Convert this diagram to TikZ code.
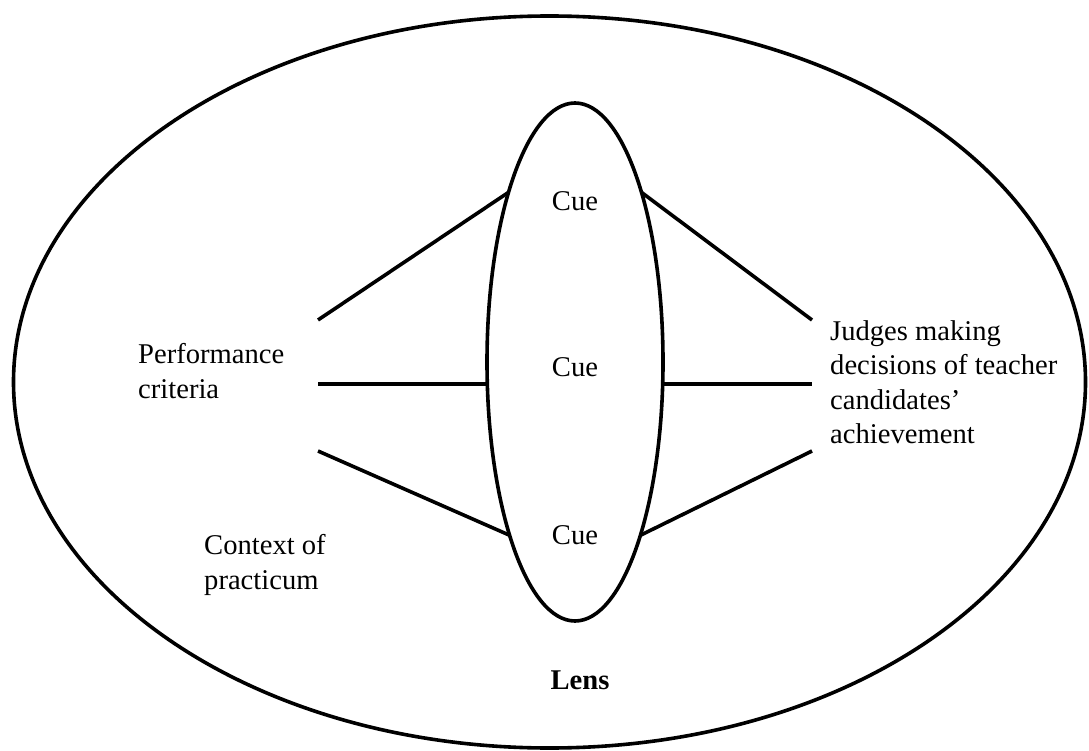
\documentclass[tikz,border=0pt]{standalone}
\usepackage{fontspec}
\setmainfont{Liberation Serif}
\begin{document}
\begin{tikzpicture}[x=1pt,y=-1pt,
  lbl/.style={inner sep=0pt,font=\fontsize{28.6}{34.5}\selectfont,align=left},
  link/.style={line width=3.6pt},
  shapeline/.style={line width=3.6pt}]
\useasboundingbox (0,0) rectangle (1089,751);
% outer ellipse
\draw[shapeline] (549.5,382) ellipse [x radius=536, y radius=366];
% lens
\draw[shapeline] (575,362) ellipse [x radius=88, y radius=259];
% coordinates
\coordinate (lu) at (318,320);
\coordinate (lm) at (318,384);
\coordinate (ll) at (318,451);
\coordinate (ru) at (812,320);
\coordinate (rm) at (812,384);
\coordinate (rl) at (812,451);
\coordinate (clu) at (509,192);
\coordinate (clm) at (487,384);
\coordinate (cll) at (509,535);
\coordinate (cru) at (641,192);
\coordinate (crm) at (663,384);
\coordinate (crl) at (641,535);
\draw[link] (lu) -- (clu);
\draw[link] (lm) -- (clm);
\draw[link] (ll) -- (cll);
\draw[link] (cru) -- (ru);
\draw[link] (crm) -- (rm);
\draw[link] (crl) -- (rl);
% texts
\node[lbl] (cue1) at (575,201) {Cue};
\node[lbl] (cue2) at (575,367) {Cue};
\node[lbl] (cue3) at (575,535) {Cue};
\node[lbl,anchor=west] (perf) at (138,371) {Performance\\criteria};
\node[lbl,anchor=west] (ctx) at (204,565) {Context of\\practicum};
\node[lbl,anchor=west] (judge) at (830,382) {Judges making\\decisions of teacher\\candidates’\\achievement};
\node[lbl,font=\fontsize{28.6}{34.5}\selectfont\bfseries] (lens) at (580,680) {Lens};
\end{tikzpicture}
\end{document}
